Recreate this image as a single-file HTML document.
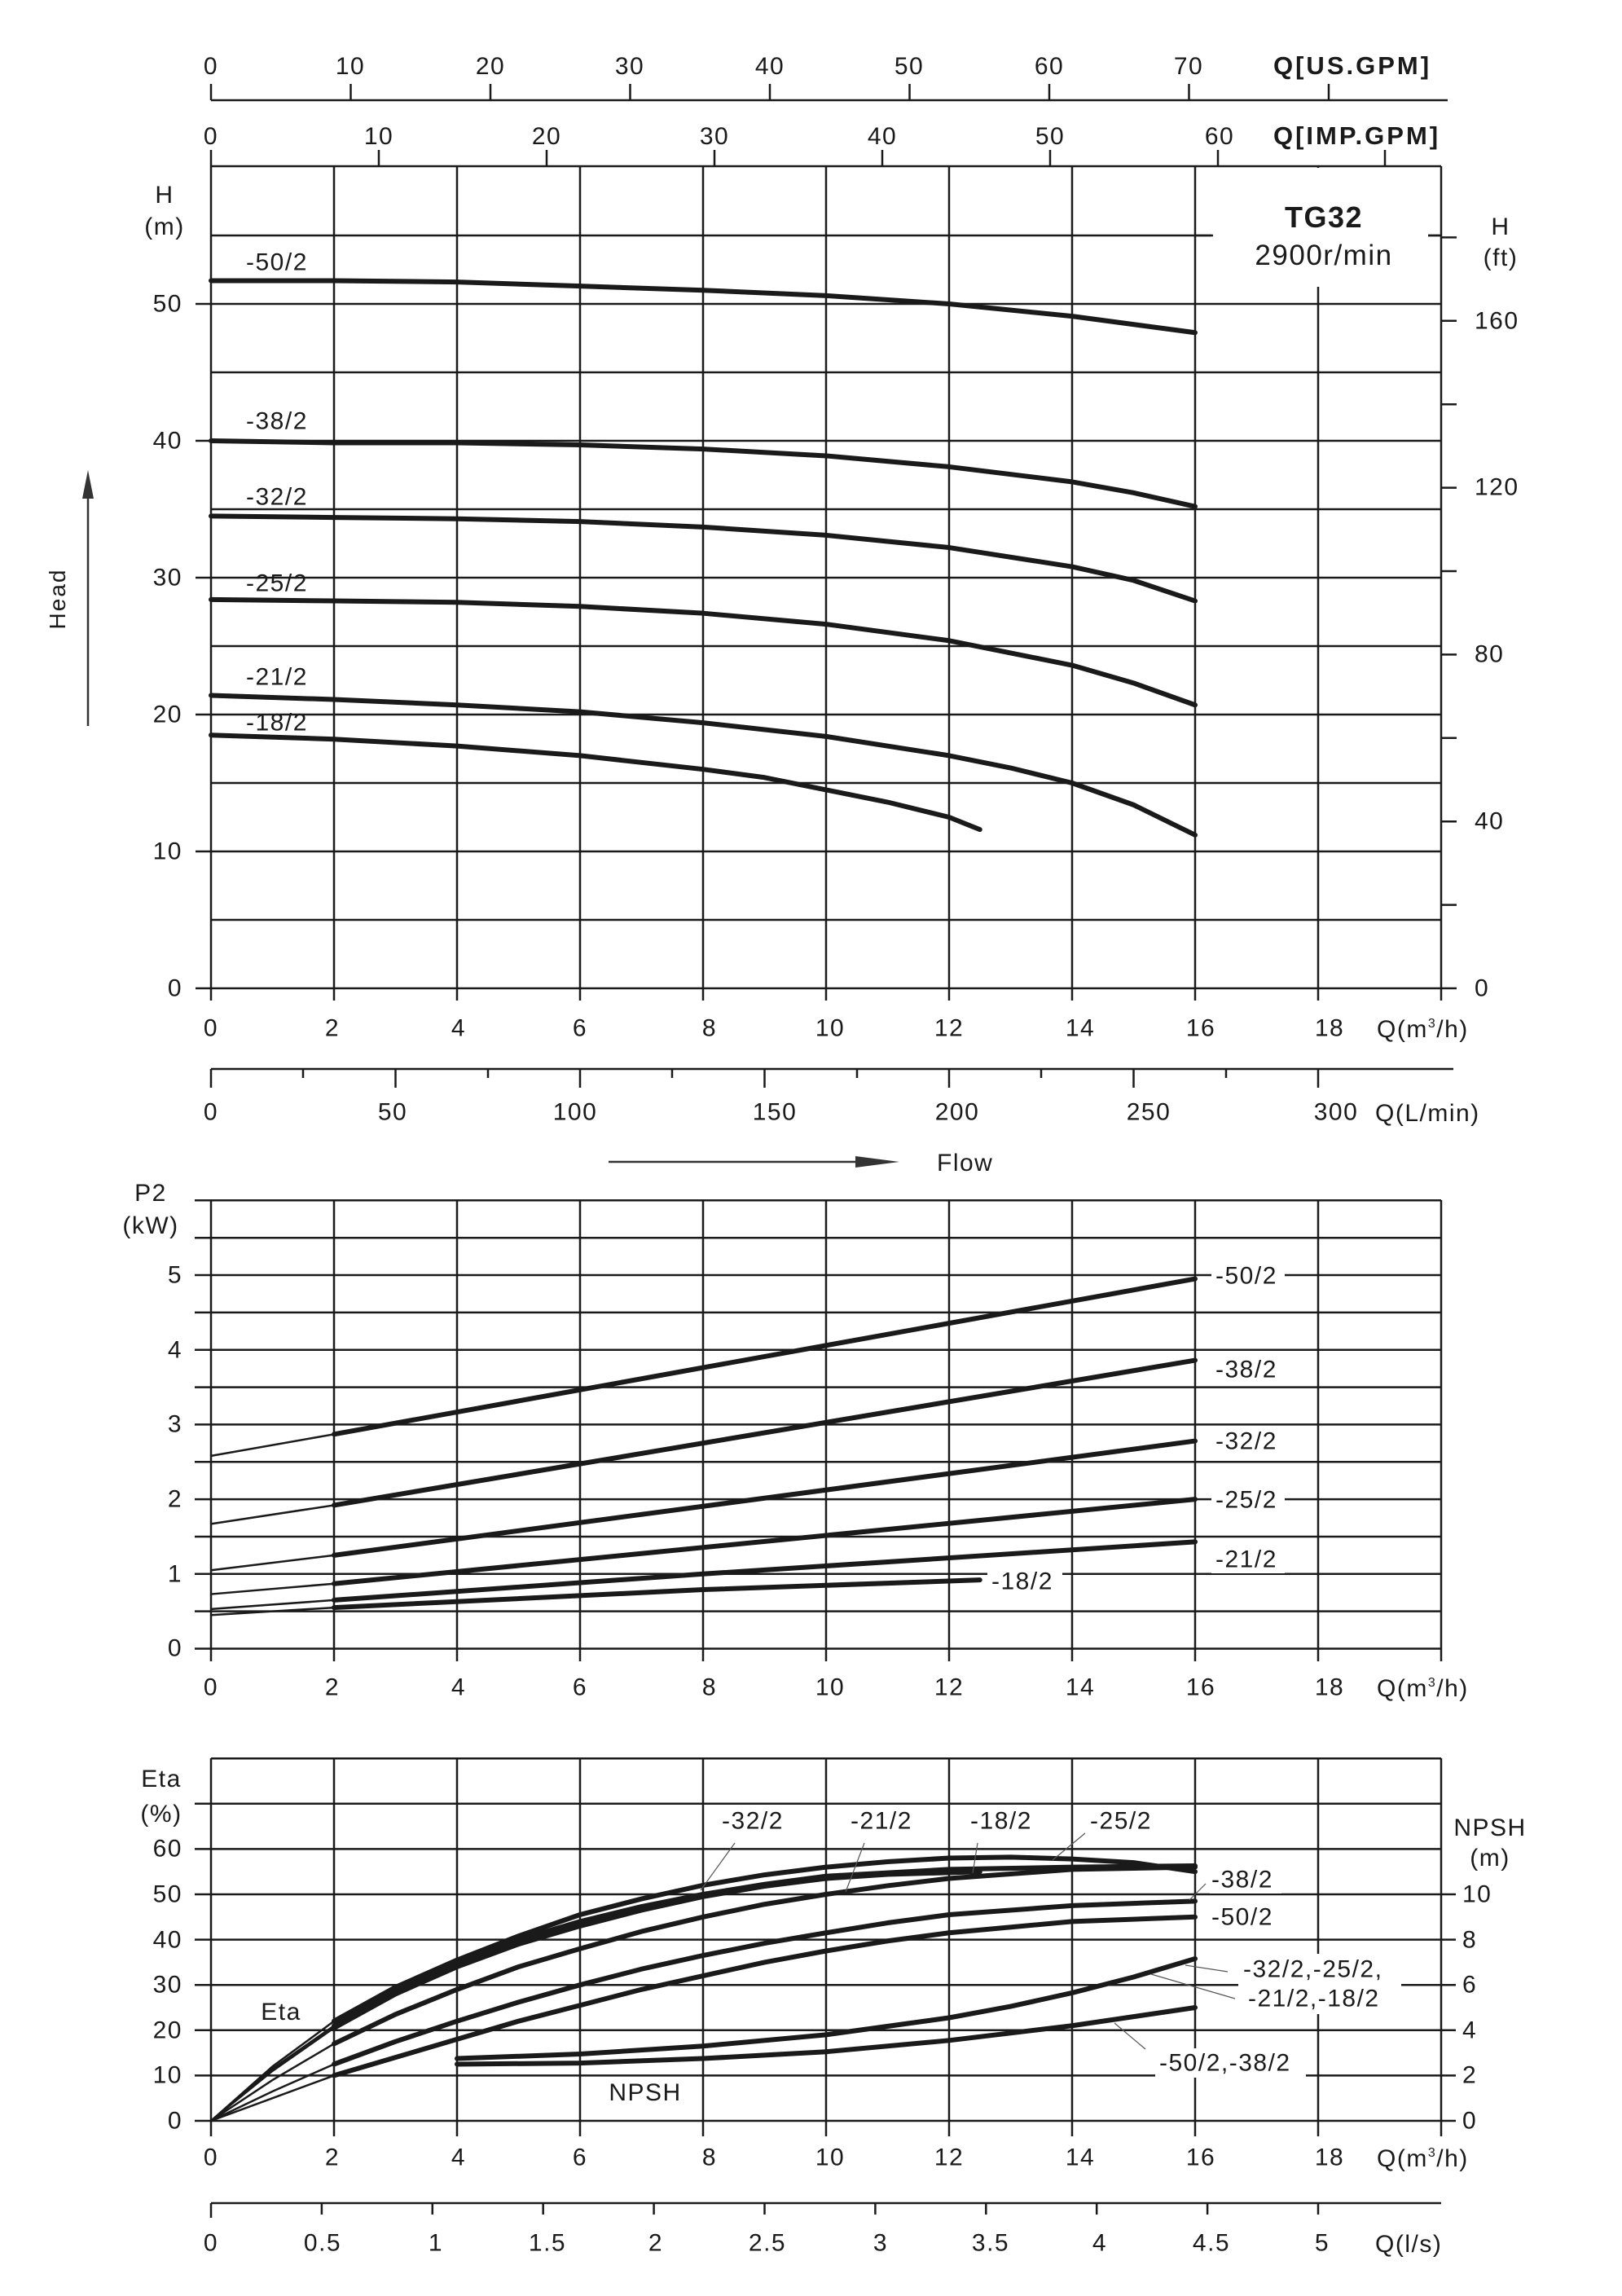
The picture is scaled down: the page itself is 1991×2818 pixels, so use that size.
<!DOCTYPE html>
<html><head><meta charset="utf-8"><style>
html,body{margin:0;padding:0;background:#fff}
svg{display:block}
text{font-family:"Liberation Sans",Arial,sans-serif;fill:#1a1a1a;font-size:30px;letter-spacing:1.5px}
.g{stroke:#1a1a1a;stroke-width:2.5;fill:none}
.c{stroke:#1a1a1a;stroke-width:6;fill:none;stroke-linejoin:round;stroke-linecap:round}
.t{stroke:#1a1a1a;stroke-width:2.5;fill:none}
.l{stroke:#555;stroke-width:1.2;fill:none}
</style></head><body>
<svg width="1991" height="2818" viewBox="0 0 1991 2818" xmlns="http://www.w3.org/2000/svg">
<rect width="1991" height="2818" fill="#fff"/>

<!-- US GPM axis -->
<g class="g">
<line x1="259" y1="123" x2="1777" y2="123"/>
<path d="M259 103V123M430.5 103V123M602 103V123M773.5 103V123M945 103V123M1116.5 103V123M1288 103V123M1459.5 103V123M1631 103V123"/>
<line x1="259" y1="204" x2="1769" y2="204"/>
<path d="M259 184V204M465 184V204M671 184V204M877 184V204M1083 184V204M1289 184V204M1495 184V204M1700 184V204"/>
</g>
<g text-anchor="middle">
<text x="259" y="91">0</text><text x="430" y="91">10</text><text x="602" y="91">20</text><text x="773" y="91">30</text><text x="945" y="91">40</text><text x="1116" y="91">50</text><text x="1288" y="91">60</text><text x="1459" y="91">70</text>
<text x="259" y="177">0</text><text x="465" y="177">10</text><text x="671" y="177">20</text><text x="877" y="177">30</text><text x="1083" y="177">40</text><text x="1289" y="177">50</text><text x="1497" y="177">60</text>
</g>
<text x="1563" y="91" style="font-weight:bold;font-size:31px;letter-spacing:3px">Q[US.GPM]</text>
<text x="1563" y="177" style="font-weight:bold;font-size:31px;letter-spacing:3px">Q[IMP.GPM]</text>

<!-- HEAD CHART grid -->
<g class="g">
<path d="M259 204V1228M410 204V1228M561 204V1228M712 204V1228M863 204V1228M1014 204V1228M1165 204V1228M1316 204V1228M1467 204V1228M1618 204V1228M1769 204V1228"/>
<path d="M240 1213H1769M259 1129H1769M240 1045H1769M259 961H1769M240 877H1769M259 793H1769M240 709H1769M259 625H1769M240 541H1769M259 457H1769M240 373H1769M259 289H1769"/>
<path d="M1769 1213H1788M1769 1110.6H1788M1769 1008.2H1788M1769 905.8H1788M1769 803.4H1788M1769 701H1788M1769 598.6H1788M1769 496.2H1788M1769 393.8H1788M1769 291.4H1788"/>
</g>
<rect x="1489" y="206" width="264" height="146" fill="#fff"/>
<path class="g" d="M1467 289H1487M1753 289H1769"/>
<text x="1625" y="279" text-anchor="middle" style="font-weight:bold;font-size:36px">TG32</text>
<text x="1625" y="325" text-anchor="middle" style="font-size:35px">2900r/min</text>
<text x="1842" y="288" text-anchor="middle">H</text>
<text x="1842" y="326" text-anchor="middle">(ft)</text>
<text x="202" y="249" text-anchor="middle">H</text>
<text x="202" y="288" text-anchor="middle">(m)</text>
<g text-anchor="end" dominant-baseline="central">
<text x="224" y="1213">0</text><text x="224" y="1045">10</text><text x="224" y="877">20</text><text x="224" y="709">30</text><text x="224" y="541">40</text><text x="224" y="373">50</text>
</g>
<g dominant-baseline="central">
<text x="1810" y="1213">0</text><text x="1810" y="1008">40</text><text x="1810" y="803">80</text><text x="1810" y="598">120</text><text x="1810" y="394">160</text>
</g>
<g transform="matrix(75.5 0 0 -16.8 259 1213)">
<g class="c" vector-effect="non-scaling-stroke">
<polyline vector-effect="non-scaling-stroke" points="0,51.7 2,51.7 4,51.6 6,51.3 8,51.0 10,50.6 12,50.0 14,49.1 16,47.9"/>
<polyline vector-effect="non-scaling-stroke" points="0,40 2,39.85 4,39.85 6,39.7 8,39.4 10,38.9 12,38.1 14,37.0 15,36.2 16,35.2"/>
<polyline vector-effect="non-scaling-stroke" points="0,34.5 2,34.4 4,34.3 6,34.1 8,33.7 10,33.1 12,32.2 14,30.8 15,29.8 16,28.3"/>
<polyline vector-effect="non-scaling-stroke" points="0,28.4 2,28.3 4,28.2 6,27.9 8,27.4 10,26.6 12,25.4 14,23.6 15,22.3 16,20.7"/>
<polyline vector-effect="non-scaling-stroke" points="0,21.4 2,21.1 4,20.7 6,20.2 8,19.4 10,18.4 12,17.0 13,16.1 14,15.0 15,13.4 16,11.2"/>
<polyline vector-effect="non-scaling-stroke" points="0,18.5 2,18.2 4,17.7 6,17.0 8,16.0 9,15.4 10,14.5 11,13.6 12,12.5 12.5,11.6"/>
</g>
</g>
<g dominant-baseline="central">
<text x="302" y="322">-50/2</text><text x="302" y="517">-38/2</text><text x="302" y="610">-32/2</text><text x="302" y="716">-25/2</text><text x="302" y="831">-21/2</text><text x="302" y="887">-18/2</text>
</g>
<g text-anchor="middle" dominant-baseline="central">
<text x="259" y="1262">0</text><text x="408" y="1262">2</text><text x="563" y="1262">4</text><text x="712" y="1262">6</text><text x="871" y="1262">8</text><text x="1019" y="1262">10</text><text x="1165" y="1262">12</text><text x="1326" y="1262">14</text><text x="1474" y="1262">16</text><text x="1632" y="1262">18</text>
</g>
<text x="1690" y="1273">Q(m<tspan dy="-12" style="font-size:16px">3</tspan><tspan dy="12">/h)</tspan></text>

<!-- L/min axis -->
<g class="g">
<line x1="259" y1="1312" x2="1784" y2="1312"/>
<path d="M259 1312V1335M372 1312V1323M485.5 1312V1335M599 1312V1323M712 1312V1335M825 1312V1323M938.5 1312V1335M1052 1312V1323M1165 1312V1335M1278 1312V1323M1391.5 1312V1335M1505 1312V1323M1618 1312V1335"/>
</g>
<g text-anchor="middle" dominant-baseline="central">
<text x="259" y="1365">0</text><text x="482" y="1365">50</text><text x="706" y="1365">100</text><text x="951" y="1365">150</text><text x="1175" y="1365">200</text><text x="1410" y="1365">250</text><text x="1640" y="1365">300</text>
</g>
<text x="1688" y="1376">Q(L/min)</text>

<!-- Head arrow / Flow -->
<line x1="108" y1="891" x2="108" y2="600" stroke="#333" stroke-width="2.5"/>
<polygon points="108,577 101,612 115,612" fill="#333"/>
<text transform="translate(80,735) rotate(-90)" text-anchor="middle" style="font-size:28px;letter-spacing:2px">Head</text>
<line x1="747" y1="1426" x2="1080" y2="1426" stroke="#333" stroke-width="2.5"/>
<polygon points="1104,1426 1050,1419 1050,1433" fill="#333"/>
<text x="1150" y="1437">Flow</text>

<!-- P2 CHART -->
<g class="g">
<path d="M259 1473V2039M410 1473V2039M561 1473V2039M712 1473V2039M863 1473V2039M1014 1473V2039M1165 1473V2039M1316 1473V2039M1467 1473V2039M1618 1473V2039M1769 1473V2039"/>
<path d="M239 2023.5H1769M239 1977.6H1769M239 1931.8H1769M239 1886H1769M239 1840.1H1769M239 1794.3H1769M239 1748.4H1769M239 1702.6H1769M239 1656.7H1769M239 1610.9H1769M239 1565H1769M239 1519.2H1769M239 1473.3H1769"/>
</g>
<text x="185" y="1474" text-anchor="middle">P2</text>
<text x="185" y="1514" text-anchor="middle">(kW)</text>
<g text-anchor="end" dominant-baseline="central">
<text x="224" y="2023">0</text><text x="224" y="1932">1</text><text x="224" y="1840">2</text><text x="224" y="1748">3</text><text x="224" y="1657">4</text><text x="224" y="1565">5</text>
</g>
<g transform="matrix(75.5 0 0 -91.7 259 2023.5)">
<g class="t"><polyline vector-effect="non-scaling-stroke" points="0,2.58 2,2.87"/><polyline vector-effect="non-scaling-stroke" points="0,1.67 2,1.92"/><polyline vector-effect="non-scaling-stroke" points="0,1.05 2,1.25"/><polyline vector-effect="non-scaling-stroke" points="0,0.73 2,0.87"/><polyline vector-effect="non-scaling-stroke" points="0,0.53 2,0.65"/><polyline vector-effect="non-scaling-stroke" points="0,0.45 2,0.55"/></g>
<g class="c"><polyline vector-effect="non-scaling-stroke" points="2,2.87 16,4.95"/><polyline vector-effect="non-scaling-stroke" points="2,1.92 16,3.86"/><polyline vector-effect="non-scaling-stroke" points="2,1.25 16,2.78"/><polyline vector-effect="non-scaling-stroke" points="2,0.87 16,2.0"/><polyline vector-effect="non-scaling-stroke" points="2,0.65 8,1.0 16,1.43"/><polyline vector-effect="non-scaling-stroke" points="2,0.55 8,0.79 12.5,0.92"/></g>
</g>
<g fill="#fff"><rect x="1487" y="1548" width="90" height="34"/><rect x="1487" y="1664" width="90" height="34"/><rect x="1487" y="1752" width="90" height="34"/><rect x="1487" y="1824" width="90" height="34"/><rect x="1487" y="1897" width="90" height="34"/><rect x="1212" y="1924" width="92" height="34"/></g>
<g dominant-baseline="central">
<text x="1492" y="1566">-50/2</text><text x="1492" y="1681">-38/2</text><text x="1492" y="1769">-32/2</text><text x="1492" y="1841">-25/2</text><text x="1492" y="1914">-21/2</text><text x="1217" y="1941">-18/2</text>
</g>
<g text-anchor="middle" dominant-baseline="central">
<text x="259" y="2071">0</text><text x="408" y="2071">2</text><text x="563" y="2071">4</text><text x="712" y="2071">6</text><text x="871" y="2071">8</text><text x="1019" y="2071">10</text><text x="1165" y="2071">12</text><text x="1326" y="2071">14</text><text x="1474" y="2071">16</text><text x="1632" y="2071">18</text>
</g>
<text x="1690" y="2082">Q(m<tspan dy="-12" style="font-size:16px">3</tspan><tspan dy="12">/h)</tspan></text>

<!-- ETA CHART -->
<g class="g">
<path d="M259 2158V2622M410 2158V2622M561 2158V2622M712 2158V2622M863 2158V2622M1014 2158V2622M1165 2158V2622M1316 2158V2622M1467 2158V2622M1618 2158V2622M1769 2158V2622"/>
<path d="M239 2603H1787M239 2547.4H1787M239 2491.8H1787M239 2436.2H1787M239 2380.6H1787M239 2325H1787M239 2269.4H1769M239 2213.8H1769M259 2158.2H1769"/>
</g>
<text x="198" y="2193" text-anchor="middle">Eta</text>
<text x="198" y="2236" text-anchor="middle">(%)</text>
<g text-anchor="end" dominant-baseline="central">
<text x="224" y="2603">0</text><text x="224" y="2547">10</text><text x="224" y="2492">20</text><text x="224" y="2436">30</text><text x="224" y="2381">40</text><text x="224" y="2325">50</text><text x="224" y="2269">60</text>
</g>
<g dominant-baseline="central">
<text x="1795" y="2603">0</text><text x="1795" y="2547">2</text><text x="1795" y="2492">4</text><text x="1795" y="2436">6</text><text x="1795" y="2381">8</text><text x="1795" y="2325">10</text>
</g>
<text x="1829" y="2253" text-anchor="middle">NPSH</text>
<text x="1829" y="2290" text-anchor="middle">(m)</text>
<text x="345" y="2479" text-anchor="middle">Eta</text>
<text x="792" y="2578" text-anchor="middle">NPSH</text>
<g transform="matrix(75.5 0 0 -5.56 259 2603)">
<g class="t">
<polyline vector-effect="non-scaling-stroke" points="0,0 1,12 2,22"/>
<polyline vector-effect="non-scaling-stroke" points="0,0 1,11.5 2,21"/>
<polyline vector-effect="non-scaling-stroke" points="0,0 1,11 2,20.5"/>
<polyline vector-effect="non-scaling-stroke" points="0,0 1,9 2,17"/>
<polyline vector-effect="non-scaling-stroke" points="0,0 1,6.5 2,12.5"/>
<polyline vector-effect="non-scaling-stroke" points="0,0 1,5 2,10"/>
</g>
<g class="c">
<polyline vector-effect="non-scaling-stroke" points="2,22 3,29.5 4,35.5 5,40.8 6,45.5 7,49 8,52 9,54.3 10,56 11,57.2 12,58 13,58.2 14,57.8 15,57 16,55"/>
<polyline vector-effect="non-scaling-stroke" points="2,21 3,28.8 4,35 5,40 6,44 7,47.3 8,50 9,52.2 10,54 12,55.5 14,56 16,56.3"/>
<polyline vector-effect="non-scaling-stroke" points="2,20.5 3,28 4,34 5,39 6,43 7,46.5 8,49.5 9,51.8 10,53.5 11,54.4 12.5,55"/>
<polyline vector-effect="non-scaling-stroke" points="2,17 3,23.5 4,29 5,34 6,38 7,41.8 8,45 9,47.8 10,50 11,51.9 12,53.5 14,55.5 16,56"/>
<polyline vector-effect="non-scaling-stroke" points="2,12.5 3,17.5 4,22 5,26.2 6,30 7,33.5 8,36.5 9,39.2 10,41.5 11,43.7 12,45.5 14,47.5 16,48.5"/>
<polyline vector-effect="non-scaling-stroke" points="2,10 3,14 4,18 5,22 6,25.5 7,29 8,32 9,35 10,37.5 11,39.7 12,41.5 14,44 16,45"/>
</g>
</g>
<g transform="matrix(75.5 0 0 -27.8 259 2603)" class="c">
<polyline vector-effect="non-scaling-stroke" points="4,2.75 6,2.95 8,3.3 10,3.8 12,4.55 13,5.05 14,5.65 15,6.35 16,7.16"/>
<polyline vector-effect="non-scaling-stroke" points="4,2.5 6,2.55 8,2.75 10,3.05 12,3.55 14,4.2 15,4.6 16,5.0"/>
</g>
<!-- eta labels -->
<g fill="#fff"><rect x="1485" y="2290" width="88" height="34"/><rect x="1485" y="2337" width="88" height="34"/><rect x="1520" y="2398" width="200" height="74"/><rect x="1418" y="2514" width="185" height="36"/></g>
<g class="l">
<path d="M902 2262L860 2320M1061 2262L1038 2322M1200 2262L1194 2299M1332 2250L1292 2283M1460 2332L1480 2312M1455 2412L1507 2420M1413 2423L1516 2453M1368 2483L1406 2515"/>
</g>
<g dominant-baseline="central">
<text x="924" y="2235" text-anchor="middle">-32/2</text><text x="1082" y="2235" text-anchor="middle">-21/2</text><text x="1229" y="2235" text-anchor="middle">-18/2</text><text x="1376" y="2235" text-anchor="middle">-25/2</text>
<text x="1487" y="2307">-38/2</text><text x="1487" y="2353">-50/2</text>
<text x="1526" y="2417">-32/2,-25/2,</text><text x="1532" y="2453">-21/2,-18/2</text>
<text x="1423" y="2532">-50/2,-38/2</text>
</g>
<g text-anchor="middle" dominant-baseline="central">
<text x="259" y="2648">0</text><text x="408" y="2648">2</text><text x="563" y="2648">4</text><text x="712" y="2648">6</text><text x="871" y="2648">8</text><text x="1019" y="2648">10</text><text x="1165" y="2648">12</text><text x="1326" y="2648">14</text><text x="1474" y="2648">16</text><text x="1632" y="2648">18</text>
</g>
<text x="1690" y="2659">Q(m<tspan dy="-12" style="font-size:16px">3</tspan><tspan dy="12">/h)</tspan></text>

<!-- l/s axis -->
<g class="g">
<line x1="259" y1="2704" x2="1769" y2="2704"/>
<path d="M259 2704V2722M394.9 2704V2718M530.8 2704V2718M666.7 2704V2718M802.6 2704V2718M938.5 2704V2718M1074.4 2704V2718M1210.3 2704V2718M1346.2 2704V2718M1482.1 2704V2718M1618 2704V2718"/>
</g>
<g text-anchor="middle" dominant-baseline="central">
<text x="259" y="2753">0</text><text x="396" y="2753">0.5</text><text x="535" y="2753">1</text><text x="672" y="2753">1.5</text><text x="805" y="2753">2</text><text x="942" y="2753">2.5</text><text x="1081" y="2753">3</text><text x="1216" y="2753">3.5</text><text x="1350" y="2753">4</text><text x="1487" y="2753">4.5</text><text x="1623" y="2753">5</text>
</g>
<text x="1688" y="2764">Q(l/s)</text>
</svg>
</body></html>
